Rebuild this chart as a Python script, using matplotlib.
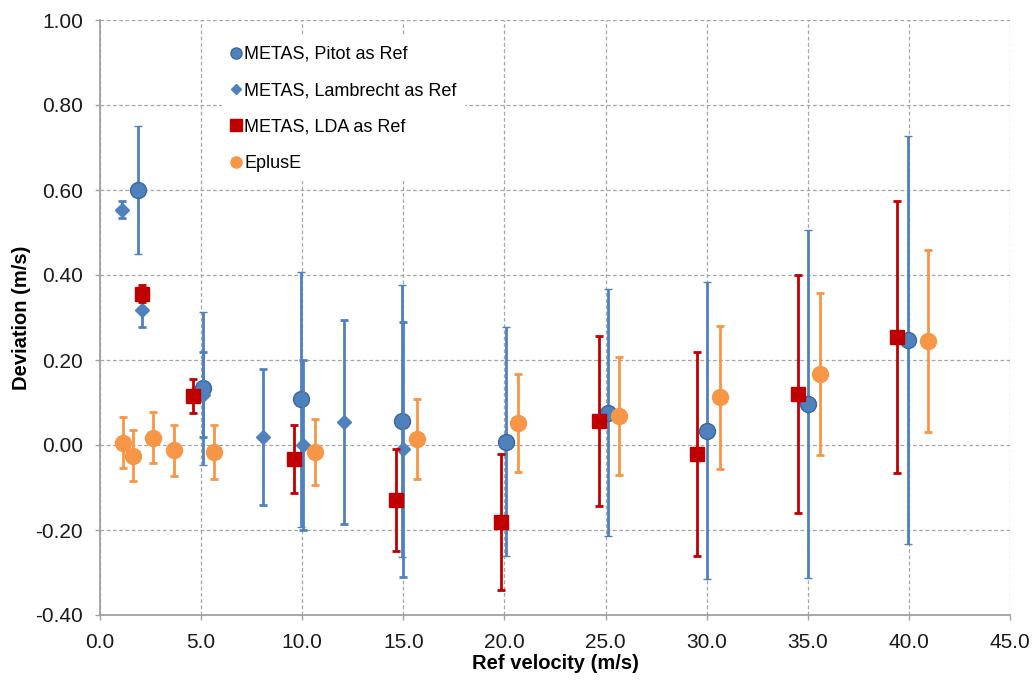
import matplotlib
matplotlib.use("Agg")
import matplotlib.pyplot as plt
from matplotlib.lines import Line2D

plt.rcParams['font.family'] = ['Liberation Sans', 'DejaVu Sans']

# Data
pitot_x = [1.9, 5.1, 9.95, 14.92, 20.1, 25.1, 30.0, 35.0, 39.98]
pitot_y = [0.600, 0.134, 0.108, 0.057, 0.008, 0.076, 0.034, 0.097, 0.247]
pitot_err = [0.15, 0.18, 0.30, 0.32, 0.27, 0.29, 0.35, 0.41, 0.48]

lamb_x = [1.07, 2.06, 5.09, 8.05, 10.04, 12.07, 14.99]
lamb_y = [0.553, 0.318, 0.118, 0.018, 0.000, 0.055, -0.010]
lamb_err = [0.02, 0.04, 0.10, 0.16, 0.20, 0.24, 0.30]

lda_x = [2.09, 4.58, 9.59, 14.62, 19.82, 24.69, 29.53, 34.5, 39.4]
lda_y = [0.356, 0.115, -0.033, -0.130, -0.180, 0.057, -0.020, 0.120, 0.253]
lda_err = [0.02, 0.04, 0.08, 0.12, 0.16, 0.20, 0.24, 0.28, 0.32]

epe_x = [1.12, 1.62, 2.64, 3.66, 5.64, 10.63, 15.68, 20.66, 25.67, 30.66, 35.61, 40.96]
epe_y = [0.005, -0.025, 0.017, -0.012, -0.016, -0.016, 0.014, 0.052, 0.068, 0.112, 0.167, 0.245]
epe_err = [0.06, 0.06, 0.06, 0.06, 0.064, 0.077, 0.094, 0.116, 0.139, 0.168, 0.19, 0.215]

labels = ["METAS, Pitot as Ref", "METAS, Lambrecht as Ref", "METAS, LDA as Ref", "EplusE"]
x_ticks = [0, 5, 10, 15, 20, 25, 30, 35, 40, 45]
y_ticks = [-0.4, -0.2, 0.0, 0.2, 0.4, 0.6, 0.8, 1.0]

BLUE = '#4F81BD'
BLUE_EDGE = '#3A679E'
RED = '#C00000'
ORANGE = '#F79646'

fig = plt.figure(figsize=(10.32, 6.8), dpi=100)
ax = fig.add_axes([100/1032, 1 - 615/680, 910/1032, 595/680])

ax.errorbar(pitot_x, pitot_y, yerr=pitot_err, fmt='o', color=BLUE, ms=11.5,
            mfc=BLUE, mec=BLUE_EDGE, mew=1.0, elinewidth=2.0, capsize=3,
            capthick=2.0, ecolor=BLUE, zorder=3)
ax.errorbar(lamb_x, lamb_y, yerr=lamb_err, fmt='D', color=BLUE, ms=7.5,
            mfc=BLUE, mec=BLUE, elinewidth=2.0, capsize=3, capthick=2.0,
            ecolor=BLUE, zorder=4)
ax.errorbar(lda_x, lda_y, yerr=lda_err, fmt='s', color=RED, ms=10.5,
            mfc=RED, mec=RED, elinewidth=2.0, capsize=3, capthick=2.0,
            ecolor=RED, zorder=5)
ax.errorbar(epe_x, epe_y, yerr=epe_err, fmt='o', color=ORANGE, ms=11.5,
            mfc=ORANGE, mec=ORANGE, elinewidth=2.0, capsize=3, capthick=2.0,
            ecolor=ORANGE, zorder=6)

ax.set_xlim(0, 45)
ax.set_ylim(-0.4, 1.0)
ax.set_xticks(x_ticks)
ax.set_yticks(y_ticks)
ax.set_xticklabels([f"{v:.1f}" for v in x_ticks])
ax.set_yticklabels([f"{v:.2f}" for v in y_ticks])

ax.grid(True, which='major', color='#A6A6A6', linestyle=(0, (3, 2)), linewidth=0.9, zorder=0)
ax.set_axisbelow(True)
for s in ['top', 'right']:
    ax.spines[s].set_visible(False)
for s in ['left', 'bottom']:
    ax.spines[s].set_color('#A0A0A0')
    ax.spines[s].set_linewidth(1.3)
ax.tick_params(axis='both', direction='out', length=3.6, width=1.0, color='#A0A0A0',
               labelsize=15, labelcolor='#1a1a1a')
ax.tick_params(axis='y', pad=8.5)
ax.tick_params(axis='x', pad=9.5)

ax.set_xlabel("Ref velocity (m/s)", fontsize=14.5, fontweight='bold', labelpad=1.5)
ax.set_ylabel("Deviation (m/s)", fontsize=14.5, fontweight='bold', labelpad=3)

handles = [
    Line2D([], [], marker='o', ls='none', color=BLUE, mec=BLUE_EDGE, ms=8),
    Line2D([], [], marker='D', ls='none', color=BLUE, ms=5.5),
    Line2D([], [], marker='s', ls='none', color=RED, ms=8),
    Line2D([], [], marker='o', ls='none', color=ORANGE, ms=8),
]
leg = ax.legend(handles, labels, loc='upper left', bbox_to_anchor=(0.134, 0.971),
                frameon=True, facecolor='white', edgecolor='none', framealpha=1,
                fancybox=False, fontsize=13, handlelength=0.6, handletextpad=0.15,
                labelspacing=1.07, borderpad=0.48, borderaxespad=0)
leg.set_zorder(10)

fig.savefig("out.png", dpi=100)
